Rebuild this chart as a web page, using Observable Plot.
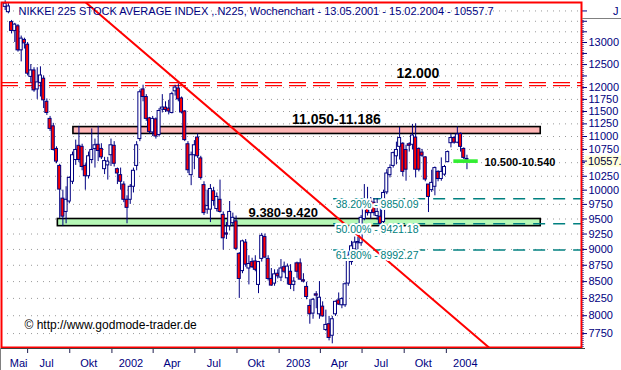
<!DOCTYPE html>
<html><head><meta charset="utf-8">
<script src="https://cdn.jsdelivr.net/npm/d3@7"></script>
<script src="https://cdn.jsdelivr.net/npm/@observablehq/plot@0.6"></script>
<style>body{margin:0;background:#fff} svg{display:block}</style>
</head><body><div id="chart"></div>
<script>
// ---- data: weekly candles, first week 13.05.2001 ----
const firstWeek = "2001-05-13";
const opens = [13850,13720,13480,13270,13380,12820,13060,12950,12230,12370,
 11960,12100,12190,11700,11350,11200,10760,10440,9850,9620,
 9800,10150,10550,10820,10800,10440,10250,10550,10760,10840,
 10760,10380,10450,10640,10820,10380,10270,10100,9830,9830,
 10060,10440,10950,11960,11800,11360,11080,11340,11030,11540,
 11580,11560,11470,11920,11980,11770,11500,10850,10270,10640,
 10980,10580,10090,9660,9660,9980,9670,9830,9570,9260,
 9380,9430,9460,8930,8660,9110,8700,8800,8810,8450,
 8850,9200,8850,8540,8470,8620,8560,8720,8550,8650,
 8450,8780,8780,8520,8420,8140,8030,8310,8020,8130,
 7800,7880,7720,8020,8220,8150,8150,8470,8800,9000,
 9100,9100,9500,9750,9600,9780,9550,9540,9450,9960,
 10270,10440,10620,10800,10860,10740,10850,10840,10980,10760,
 10690,10600,10100,10000,10060,10330,10200,10280,10510,10870,
 10970,10880,11050,10760,10570];
const highs = [14000,13930,13520,13450,13420,13150,13100,13000,12500,12430,
 12430,12450,12250,11760,11400,11260,10800,10470,10000,10060,
 10240,10700,10930,11200,10850,10480,10700,11150,10950,11200,
 10860,10600,10600,10950,10900,10400,10400,10150,9900,10100,
 10400,10900,11950,12050,11850,11380,11400,11370,11560,11850,
 11700,11730,11900,12050,12080,11800,11520,10900,10700,10920,
 11050,10620,10150,10000,10100,10050,9950,10180,9620,9440,
 9800,9600,9550,8950,9150,9160,8900,8860,8900,8810,
 9260,9250,8900,8700,8680,8680,8840,8800,8770,8760,
 8560,8800,8850,8620,8490,8230,8250,8350,8500,8200,
 8080,7990,7990,8210,8330,8260,8480,8960,9130,9200,
 9200,9560,10100,10050,9870,9850,9850,9820,10000,10370,
 10460,10700,10890,11180,10880,10830,10880,11240,11250,10780,
 10750,10610,10100,10360,10420,10350,10590,10450,10720,11050,
 11000,11190,11070,10780,10640];
const lows = [13760,13680,13200,13000,12780,12560,12850,12250,12100,11900,
 11750,11800,11560,11420,11100,10720,10480,9510,9380,9420,
 9760,10100,10450,10500,10350,10000,10200,10480,10400,10520,
 10560,10280,10180,10430,10420,10100,10000,9780,9420,9750,
 9950,10350,10900,11700,11300,11050,11000,10950,10990,11470,
 11480,11430,11450,11820,11700,11450,10900,10300,10080,10370,
 10580,10180,9560,9580,9440,9720,9620,9600,8990,9160,
 9300,9380,8980,8250,8620,8720,8450,8700,8650,8320,
 8800,8860,8510,8430,8430,8540,8500,8620,8450,8380,
 8350,8550,8520,8480,8230,7880,7950,8100,7950,7980,
 7780,7650,7610,7990,8150,8100,8120,8430,8750,8990,
 8950,9050,9470,9550,9500,9550,9480,9380,9400,9920,
 10220,10400,10460,10550,10240,10160,10700,10740,10220,10330,
 10600,10150,9610,9960,9900,10150,10160,10250,10500,10780,
 10850,10860,10700,10560,10370];
const closes = [13930,13860,13270,13420,12820,13090,12980,12300,12370,11940,
 12110,12260,11730,11470,11150,10740,10520,10010,9540,9830,
 10220,10640,10740,10550,10420,10250,10620,10740,10830,10720,
 10600,10530,10520,10830,10480,10300,10150,9830,9690,10060,
 10350,10830,11900,11800,11350,11090,11350,11000,11510,11580,
 11530,11500,11860,12000,11750,11480,10930,10360,10640,10830,
 10620,10220,9600,9720,10020,9810,9880,9620,9180,9240,
 9620,9520,9010,8540,9130,8760,8770,8720,8680,8800,
 9220,8870,8540,8440,8610,8580,8700,8650,8730,8450,
 8500,8650,8530,8500,8270,8020,8230,8290,8260,7990,
 7870,7690,7950,8200,8160,8240,8460,8900,9050,9110,
 9120,9520,9720,9600,9800,9600,9620,9420,9950,10300,
 10400,10680,10740,10970,10330,10370,10820,11020,10370,10370,
 10630,10190,9880,10130,10400,10200,10330,10420,10700,10970,
 10880,11040,10800,10590,10557.7];

// zones (resistance / support)
const zoneLabels = ["11.050-11.186", "9.380-9.420"];
const zoneLow = [11050, 9380];
const zoneHigh = [11186, 9500];
const zoneStart = ["2001-10-09", "2001-09-05"];
const zoneEnd = ["2004-07-25", "2004-07-25"];
const zoneLabelDate = ["2003-05-06", "2003-01-10"];
const zoneLabelSize = [14, 13];

// 12000 line
const levelValue = 12000;
const levelLabel = "12.000";
const levelLabelDate = "2003-10-31";

// fibonacci retracements
const fibPct = ["38.20%", "50.00%", "61.80%"];
const fibLevels = [9850.09, 9421.18, 8992.27];
const fibStart = "2003-04-30";

// target zone
const targetLabel = "10.500-10.540";
const targetLow = 10500, targetHigh = 10540;
const targetStart = "2004-01-19", targetEnd = "2004-03-09";

// trendline
const trendDates = ["2001-11-05", "2004-04-03"];
const trendValues = [13958, 7560.6];

// axes
const yTicks = d3.range(7750, 14000, 250);
const yLabels = [7750,8000,8250,8500,8750,9000,9250,9500,9750,10000,10250,10750,11000,11250,11500,11750,12000,12500,13000];
const quarterTicks = ["2001-07-01","2001-10-01","2002-01-01","2002-04-01","2002-07-01","2002-10-01","2003-01-01","2003-04-01","2003-07-01","2003-10-01","2004-01-01"];
const monthLabelDates = ["2001-05-01","2001-07-01","2001-10-01","2002-01-01","2002-04-01","2002-07-01","2002-10-01","2003-01-01","2003-04-01","2003-07-01","2003-10-01","2004-01-01"];
const monthLabels = ["Mai","Jul","Okt","2002","Apr","Jul","Okt","2003","Apr","Jul","Okt","2004"];

const title = "NIKKEI 225 STOCK AVERAGE INDEX ,.N225, Wochenchart - 13.05.2001 - 15.02.2004 - 10557.7";
const copyright = "\u00A9 http://www.godmode-trader.de";
const xDomain = ["2001-05-05", "2004-10-22"];
const yDomain = [7560.6, 13958];

// ---- build ----
const D = s => new Date(s);
const start = D(firstWeek);
const candles = opens.map((o, i) => ({date: d3.utcDay.offset(start, 7 * i), open: o, high: highs[i], low: lows[i], close: closes[i]}));
const zoneFills = ["#ffb6b6", "#b6f8b6"];
const zones = zoneLabels.map((l, i) => ({label: l, lo: zoneLow[i], hi: zoneHigh[i], x1: D(zoneStart[i]), x2: D(zoneEnd[i]), lx: D(zoneLabelDate[i]), size: zoneLabelSize[i], fill: zoneFills[i]}));
const fibs = fibLevels.map((v, i) => ({value: v, text: `${fibPct[i]} - ${v.toFixed(2)}`, x: D(fibStart)}));
const trend = trendDates.map((d, i) => ({date: D(d), value: trendValues[i]}));
const months = monthLabelDates.map((d, i) => ({date: D(d), label: monthLabels[i]}));
const navy = "#000080", teal = "#008080";

const plot = Plot.plot({
  width: 621, height: 370,
  marginLeft: 1, marginRight: 40, marginTop: 2, marginBottom: 23,
  style: {fontFamily: "'Liberation Sans', Arial, sans-serif", fontSize: "11px", background: "white", overflow: "visible"},
  x: {type: "utc", domain: xDomain.map(D), axis: null},
  y: {type: "log", domain: yDomain, axis: null},
  marks: [
    Plot.ruleY(yTicks, {stroke: "#9a9a9a", strokeDasharray: "1,5", strokeWidth: 1}),
    Plot.rect(zones, {x1: "x1", x2: "x2", y1: "lo", y2: "hi", fill: "fill", stroke: "black", strokeWidth: 1.6}),
    Plot.ruleY(fibs, {y: "value", x1: "x", x2: () => D(xDomain[1]), stroke: teal, strokeWidth: 1.5, strokeDasharray: "12,8"}),
    Plot.ruleY([levelValue], {stroke: "red", strokeWidth: 1.2, strokeDasharray: "17,7", dy: -5}),
    Plot.ruleY([levelValue], {stroke: "red", strokeWidth: 1.2, strokeDasharray: "17,7", dy: -2}),
    Plot.ruleX(candles, {x: "date", y1: "low", y2: "high", stroke: navy, strokeWidth: 1}),
    Plot.rect(candles, {x1: "date", x2: "date", y1: "open", y2: "close", insetLeft: -1.5, insetRight: -1.5,
      fill: d => d.close >= d.open ? "white" : "red", stroke: navy, strokeWidth: 1}),
    Plot.line(trend, {x: "date", y: "value", stroke: "red", strokeWidth: 2, clip: true}),
    Plot.rect([{lo: targetLow, hi: targetHigh}], {x1: () => D(targetStart), x2: () => D(targetEnd), y1: "lo", y2: "hi", fill: "#33ee33", stroke: "#33ee33", strokeWidth: 1.5}),
    Plot.text(fibs, {x: "x", y: "value", text: "text", textAnchor: "start", lineAnchor: "top", dx: 2, dy: 2, fill: teal, fontSize: 10.5, stroke: "white", strokeWidth: 4, paintOrder: "stroke"}),
    Plot.text(zones.slice(0, 1), {x: "lx", y: "hi", text: "label", lineAnchor: "bottom", dy: -3, fill: "black", fontWeight: "bold", fontSize: 14}),
    Plot.text(zones.slice(1), {x: "lx", y: "hi", text: "label", lineAnchor: "bottom", dy: -2, fill: "black", fontWeight: "bold", fontSize: 13}),
    Plot.text([levelLabel], {x: () => D(levelLabelDate), y: () => levelValue, text: d => d, lineAnchor: "bottom", dy: -10, fill: "black", fontWeight: "bold", fontSize: 14}),
    Plot.text([targetLabel], {x: () => D(targetEnd), y: () => (targetLow + targetHigh) / 2, text: d => d, textAnchor: "start", dx: 7, dy: 1, fill: "black", fontWeight: "bold", fontSize: 11}),
    Plot.text([title], {frameAnchor: "top-left", text: d => d, dx: 17, dy: 5, lineAnchor: "top", textAnchor: "start", fill: navy, fontSize: 11}),
    Plot.text([copyright], {frameAnchor: "bottom-left", text: d => d, dx: 23, dy: -19, lineAnchor: "bottom", textAnchor: "start", fill: "black", fontSize: 12}),
    Plot.axisY({anchor: "right", ticks: yTicks, tickSize: 5, tickFormat: () => "", stroke: navy, label: null}),
    Plot.text(yLabels, {y: d => d, text: d => String(d), frameAnchor: "right", dx: 7, textAnchor: "start", fill: navy, fontSize: 11}),
    Plot.axisX({anchor: "bottom", ticks: quarterTicks.map(D), tickSize: 6, tickFormat: () => "", stroke: "#202050", label: null}),
    Plot.text(months, {x: "date", text: "label", frameAnchor: "bottom", dx: 19, dy: 19, lineAnchor: "bottom", fill: navy, fontSize: 11}),
    Plot.frame({stroke: "red", strokeWidth: 2})
  ]
});
document.getElementById("chart").append(plot);

// ---- chart furniture ----
const svg = d3.select(plot);
const ys = plot.scale("y");
const ns = "http://www.w3.org/2000/svg";
const W = 621, H = 370, right = W - 40, bottom = H - 23;
svg.append("line").attr("x1", right + 2).attr("x2", right + 2).attr("y1", 20).attr("y2", bottom)
  .attr("stroke", navy).attr("stroke-dasharray", "1,1");
svg.append("line").attr("x1", 0).attr("x2", right + 4).attr("y1", bottom + 1.5).attr("y2", bottom + 1.5).attr("stroke", "#404040");
svg.append("line").attr("x1", 0.5).attr("x2", 0.5).attr("y1", bottom + 1).attr("y2", H).attr("stroke", "#808080");
svg.append("line").attr("x1", right + 1).attr("x2", W).attr("y1", 18.5).attr("y2", 18.5).attr("stroke", "#808080");
svg.append("text").attr("x", 613).attr("y", 15).attr("text-anchor", "start").attr("fill", navy).attr("font-size", 11).text("J");
const last = closes[closes.length - 1];
const yc = ys.apply(last) + 2;
svg.append("rect").attr("x", right + 4).attr("y", yc - 5.5).attr("width", W - right - 4).attr("height", 11).attr("fill", "#ffffd8");
svg.append("line").attr("x1", right + 1).attr("x2", right + 6).attr("y1", yc).attr("y2", yc).attr("stroke", navy);
svg.append("text").attr("x", right + 7).attr("y", yc).attr("dy", "0.35em").attr("text-anchor", "start").attr("fill", "#000040").attr("font-size", 11).text(String(last));
// copyright box
svg.selectAll("text").filter(function() { return this.textContent === copyright; }).each(function() {
  const b = this.getBBox();
  const r = document.createElementNS(ns, "rect");
  r.setAttribute("x", b.x - 5); r.setAttribute("y", b.y - 1);
  r.setAttribute("width", b.width + 10); r.setAttribute("height", b.height + 3);
  r.setAttribute("fill", "white"); r.setAttribute("stroke", "black");
  this.parentNode.insertBefore(r, this);
});
</script>
</body></html>
